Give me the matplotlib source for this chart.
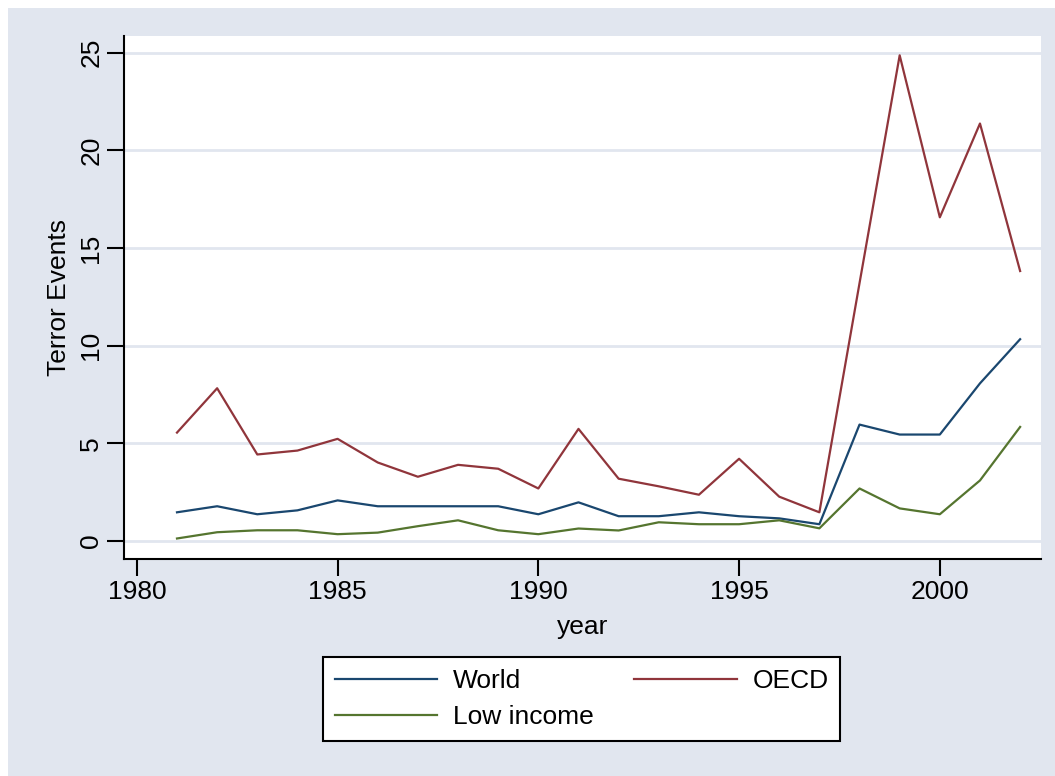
import matplotlib.pyplot as plt
from matplotlib.patches import Rectangle

plt.rcParams['font.family'] = ['Liberation Sans', 'DejaVu Sans']

# dane
years = list(range(1981, 2003))
world = [1.47, 1.78, 1.37, 1.57, 2.08, 1.78, 1.78, 1.78, 1.78, 1.37, 1.98,
         1.27, 1.27, 1.47, 1.27, 1.16, 0.86, 5.96, 5.45, 5.45, 8.07, 10.33]
oecd = [5.55, 7.82, 4.43, 4.63, 5.23, 4.02, 3.29, 3.90, 3.70, 2.69, 5.74,
        3.19, 2.80, 2.37, 4.21, 2.27, 1.47, 13.2, 24.86, 16.57, 21.37, 13.82]
low_income = [0.13, 0.45, 0.55, 0.55, 0.35, 0.43, 0.76, 1.06, 0.55, 0.35, 0.64,
              0.54, 0.96, 0.86, 0.86, 1.06, 0.65, 2.69, 1.67, 1.37, 3.10, 5.84]
xticks = [1980, 1985, 1990, 1995, 2000]
yticks = [0, 5, 10, 15, 20, 25]

tlo = '#e1e6ef'
W, H = 1055, 776

fig = plt.figure(figsize=(W / 100, H / 100), dpi=100)
fig.patch.set_facecolor('white')
fig.patches.append(Rectangle((8 / W, 0), 1 - 8 / W, 1 - 8 / H, transform=fig.transFigure,
                             facecolor=tlo, edgecolor='none', zorder=-10))

ax = fig.add_axes([124 / W, 1 - 559 / H, (1041 - 124) / W, (559 - 36) / H])
ax.set_facecolor('white')

l1, = ax.plot(years, world, color='#1a476f', lw=1.6, label='World')
l2, = ax.plot(years, oecd, color='#90353b', lw=1.6, label='OECD')
l3, = ax.plot(years, low_income, color='#55752f', lw=1.6, label='Low income')

ax.set_xlim(1979.68, 2002.52)
ax.set_ylim(-0.92, 25.85)
ax.set_xticks(xticks)
ax.set_yticks(yticks)
ax.set_yticklabels([str(v) for v in yticks], rotation=90, va='center')
ax.tick_params(axis='both', length=12, width=1.5, labelsize=19, color='black')
ax.tick_params(axis='x', pad=3)
ax.tick_params(axis='y', pad=3)
ax.grid(axis='y', color=tlo, lw=2)
ax.set_axisbelow(True)
for s in ['top', 'right']:
    ax.spines[s].set_visible(False)
for s in ['left', 'bottom']:
    ax.spines[s].set_linewidth(1.5)

ax.set_xlabel('year', fontsize=19, labelpad=8)
ax.set_ylabel('Terror Events', fontsize=19, labelpad=6)

# kolejnosc: kolumna 1 = World, Low income; kolumna 2 = OECD
leg = ax.legend([l1, l3, l2], ['World', 'Low income', 'OECD'],
                loc='center', bbox_to_anchor=(581.5 / W, 1 - 699 / H),
                bbox_transform=fig.transFigure, ncol=2, fontsize=19,
                frameon=True, fancybox=False, framealpha=1, handlelength=3.9,
                handletextpad=0.6, columnspacing=1.5, labelspacing=0.45, borderpad=0.45)
leg.get_frame().set_edgecolor('black')
leg.get_frame().set_linewidth(1.5)
leg.get_frame().set_facecolor('white')

plt.savefig('out.png', dpi=100)
